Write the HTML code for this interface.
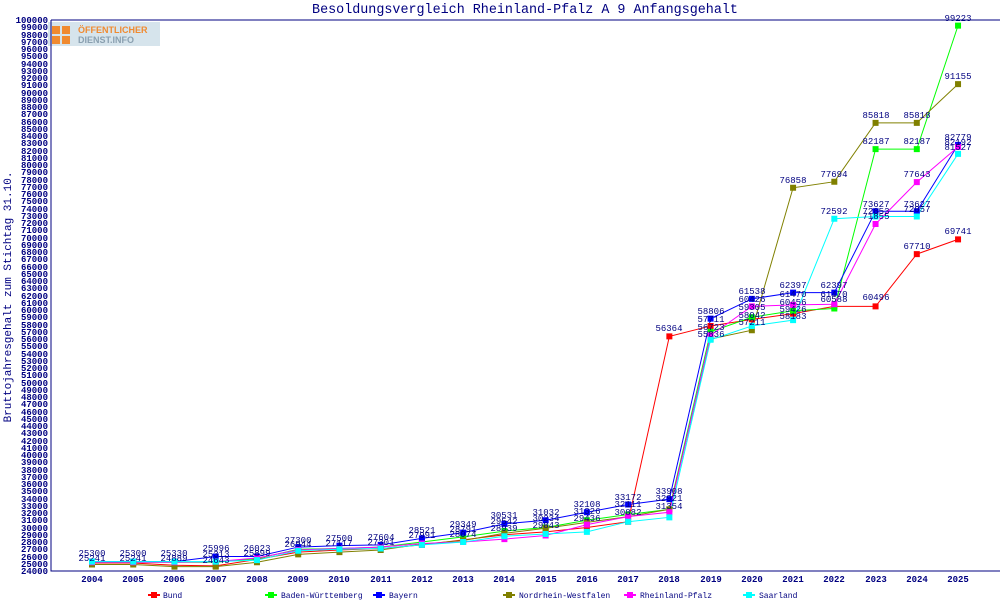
<!DOCTYPE html><html><head><meta charset="utf-8"><style>
body{margin:0;background:#fff}
svg{display:block;font-family:"Liberation Mono",monospace}
</style></head><body>
<svg width="1000" height="600" viewBox="0 0 1000 600">
<rect width="1000" height="600" fill="#fff"/>
<text x="525" y="13" font-size="13.4" fill="#000080" text-anchor="middle">Besoldungsvergleich Rheinland-Pfalz A 9 Anfangsgehalt</text>
<rect x="48" y="22" width="112" height="24" fill="#d6e4ec"/>
<rect x="52" y="26" width="8" height="8" fill="#f08a30"/><rect x="62" y="26" width="8" height="8" fill="#f08a30"/><rect x="52" y="36" width="8" height="8" fill="#f08a30"/><rect x="62" y="36" width="8" height="8" fill="#f08a30"/>
<text x="78" y="33" font-size="9" font-weight="bold" fill="#f08a30" font-family="Liberation Sans,sans-serif">ÖFFENTLICHER</text>
<text x="78" y="43" font-size="9" font-weight="bold" fill="#8aa0b0" font-family="Liberation Sans,sans-serif">DIENST.INFO</text>
<path d="M51 20H1000M51 20V571H1000" stroke="#000080" fill="none"/>
<g fill="#000080" font-size="9" font-weight="bold" text-anchor="end">
<text x="48" y="23">100000</text><text x="48" y="30">99000</text><text x="48" y="38">98000</text><text x="48" y="45">97000</text><text x="48" y="52">96000</text><text x="48" y="59">95000</text><text x="48" y="67">94000</text><text x="48" y="74">93000</text><text x="48" y="81">92000</text><text x="48" y="88">91000</text><text x="48" y="96">90000</text><text x="48" y="103">89000</text><text x="48" y="110">88000</text><text x="48" y="117">87000</text><text x="48" y="125">86000</text><text x="48" y="132">85000</text><text x="48" y="139">84000</text><text x="48" y="146">83000</text><text x="48" y="154">82000</text><text x="48" y="161">81000</text><text x="48" y="168">80000</text><text x="48" y="175">79000</text><text x="48" y="183">78000</text><text x="48" y="190">77000</text><text x="48" y="197">76000</text><text x="48" y="204">75000</text><text x="48" y="212">74000</text><text x="48" y="219">73000</text><text x="48" y="226">72000</text><text x="48" y="233">71000</text><text x="48" y="241">70000</text><text x="48" y="248">69000</text><text x="48" y="255">68000</text><text x="48" y="262">67000</text><text x="48" y="270">66000</text><text x="48" y="277">65000</text><text x="48" y="284">64000</text><text x="48" y="291">63000</text><text x="48" y="299">62000</text><text x="48" y="306">61000</text><text x="48" y="313">60000</text><text x="48" y="320">59000</text><text x="48" y="328">58000</text><text x="48" y="335">57000</text><text x="48" y="342">56000</text><text x="48" y="349">55000</text><text x="48" y="357">54000</text><text x="48" y="364">53000</text><text x="48" y="371">52000</text><text x="48" y="378">51000</text><text x="48" y="386">50000</text><text x="48" y="393">49000</text><text x="48" y="400">48000</text><text x="48" y="407">47000</text><text x="48" y="415">46000</text><text x="48" y="422">45000</text><text x="48" y="429">44000</text><text x="48" y="436">43000</text><text x="48" y="444">42000</text><text x="48" y="451">41000</text><text x="48" y="458">40000</text><text x="48" y="465">39000</text><text x="48" y="473">38000</text><text x="48" y="480">37000</text><text x="48" y="487">36000</text><text x="48" y="494">35000</text><text x="48" y="502">34000</text><text x="48" y="509">33000</text><text x="48" y="516">32000</text><text x="48" y="523">31000</text><text x="48" y="531">30000</text><text x="48" y="538">29000</text><text x="48" y="545">28000</text><text x="48" y="552">27000</text><text x="48" y="560">26000</text><text x="48" y="567">25000</text><text x="48" y="574">24000</text>
</g>
<g fill="#000080" font-size="9" font-weight="bold" text-anchor="middle">
<text x="92" y="582">2004</text><text x="133" y="582">2005</text><text x="174" y="582">2006</text><text x="216" y="582">2007</text><text x="257" y="582">2008</text><text x="298" y="582">2009</text><text x="339" y="582">2010</text><text x="381" y="582">2011</text><text x="422" y="582">2012</text><text x="463" y="582">2013</text><text x="504" y="582">2014</text><text x="546" y="582">2015</text><text x="587" y="582">2016</text><text x="628" y="582">2017</text><text x="669" y="582">2018</text><text x="711" y="582">2019</text><text x="752" y="582">2020</text><text x="793" y="582">2021</text><text x="834" y="582">2022</text><text x="876" y="582">2023</text><text x="917" y="582">2024</text><text x="958" y="582">2025</text>
</g>
<text transform="translate(11,297) rotate(-90)" font-size="11" fill="#000080" text-anchor="middle">Bruttojahresgehalt zum Stichtag 31.10.</text>
<g transform="translate(92,745) scale(41.24,-7.25)" fill="none" stroke-width="1">
<g fill="none">
<polyline vector-effect="non-scaling-stroke" stroke="#ff0000" points="0,25.1 1,25.1 2,24.8 3,24.7 4,25.6 5,26.6 6,26.9 7,27.1 8,27.6 9,28.3 10,29 11,29.4 12,30 13,30.8 14,56.364 15,57.8 16,58.7 17,59.5 18,60.496 19,60.496 20,67.71 21,69.741"/>
<polyline vector-effect="non-scaling-stroke" stroke="#00ff00" points="0,25.2 1,25.2 2,25.2 3,25.2 4,25.7 5,27 6,27.1 7,27.3 8,28 9,28.7 10,29.5 11,30 12,31 13,31.8 14,32.5 15,57 16,59 17,59.9 18,60.2 19,82.187 20,82.187 21,99.223"/>
<polyline vector-effect="non-scaling-stroke" stroke="#0000ff" points="0,25.3 1,25.3 2,25.3 3,25.996 4,26 5,27.3 6,27.5 7,27.6 8,28.5 9,29.3 10,30.5 11,31 12,32.1 13,33.172 14,33.908 15,58.806 16,61.538 17,62.397 18,62.397 19,73.627 20,73.627 21,82.779"/>
<polyline vector-effect="non-scaling-stroke" stroke="#808000" points="0,24.9 1,24.9 2,24.6 3,24.6 4,25.2 5,26.3 6,26.6 7,26.9 8,27.7 9,28.2 10,29.2 11,29.9 12,30.7 13,31.5 14,32.5 15,56 16,57.211 17,76.858 18,77.694 19,85.818 20,85.818 21,91.155"/>
<polyline vector-effect="non-scaling-stroke" stroke="#ff00ff" points="0,25.2 1,25.2 2,25.2 3,25.3 4,25.8 5,26.9 6,27.1 7,27.3 8,27.8 9,28 10,28.4 11,28.9 12,30.4 13,31.5 14,32.1 15,56.5 16,60.5 17,60.7 18,60.8 19,71.855 20,77.643 21,82.5"/>
<polyline vector-effect="non-scaling-stroke" stroke="#00ffff" points="0,25.3 1,25.3 2,25.3 3,25.3 4,25.5 5,26.8 6,27 7,27.1 8,27.6 9,28 10,28.8 11,29.1 12,29.4 13,30.8 14,31.4 15,55.9 16,57.8 17,58.6 18,72.592 19,72.9 20,72.9 21,81.527"/>
</g>
<g stroke-width="6" stroke-linecap="square">
<path vector-effect="non-scaling-stroke" stroke="#ff0000" d="M0,25.1h0M1,25.1h0M2,24.8h0M3,24.7h0M4,25.6h0M5,26.6h0M6,26.9h0M7,27.1h0M8,27.6h0M9,28.3h0M10,29h0M11,29.4h0M12,30h0M13,30.8h0M14,56.364h0M15,57.8h0M16,58.7h0M17,59.5h0M18,60.496h0M19,60.496h0M20,67.71h0M21,69.741h0"/>
<path vector-effect="non-scaling-stroke" stroke="#00ff00" d="M0,25.2h0M1,25.2h0M2,25.2h0M3,25.2h0M4,25.7h0M5,27h0M6,27.1h0M7,27.3h0M8,28h0M9,28.7h0M10,29.5h0M11,30h0M12,31h0M13,31.8h0M14,32.5h0M15,57h0M16,59h0M17,59.9h0M18,60.2h0M19,82.187h0M20,82.187h0M21,99.223h0"/>
<path vector-effect="non-scaling-stroke" stroke="#0000ff" d="M0,25.3h0M1,25.3h0M2,25.3h0M3,25.996h0M4,26h0M5,27.3h0M6,27.5h0M7,27.6h0M8,28.5h0M9,29.3h0M10,30.5h0M11,31h0M12,32.1h0M13,33.172h0M14,33.908h0M15,58.806h0M16,61.538h0M17,62.397h0M18,62.397h0M19,73.627h0M20,73.627h0M21,82.779h0"/>
<path vector-effect="non-scaling-stroke" stroke="#808000" d="M0,24.9h0M1,24.9h0M2,24.6h0M3,24.6h0M4,25.2h0M5,26.3h0M6,26.6h0M7,26.9h0M8,27.7h0M9,28.2h0M10,29.2h0M11,29.9h0M12,30.7h0M13,31.5h0M14,32.5h0M15,56h0M16,57.211h0M17,76.858h0M18,77.694h0M19,85.818h0M20,85.818h0M21,91.155h0"/>
<path vector-effect="non-scaling-stroke" stroke="#ff00ff" d="M0,25.2h0M1,25.2h0M2,25.2h0M3,25.3h0M4,25.8h0M5,26.9h0M6,27.1h0M7,27.3h0M8,27.8h0M9,28h0M10,28.4h0M11,28.9h0M12,30.4h0M13,31.5h0M14,32.1h0M15,56.5h0M16,60.5h0M17,60.7h0M18,60.8h0M19,71.855h0M20,77.643h0M21,82.5h0"/>
<path vector-effect="non-scaling-stroke" stroke="#00ffff" d="M0,25.3h0M1,25.3h0M2,25.3h0M3,25.3h0M4,25.5h0M5,26.8h0M6,27h0M7,27.1h0M8,27.6h0M9,28h0M10,28.8h0M11,29.1h0M12,29.4h0M13,30.8h0M14,31.4h0M15,55.9h0M16,57.8h0M17,58.6h0M18,72.592h0M19,72.9h0M20,72.9h0M21,81.527h0"/>
</g>
</g>
<g fill="#000080" font-size="9" text-anchor="middle">
<text x="92" y="556">25300</text><text x="92" y="561">25241</text><text x="133" y="556">25300</text><text x="133" y="561">25241</text><text x="174" y="556">25330</text><text x="174" y="561">24889</text><text x="216" y="551">25996</text><text x="216" y="557">25313</text><text x="216" y="563">24643</text><text x="257" y="551">26023</text><text x="257" y="556">25899</text>
<text x="298" y="543">27300</text><text x="298" y="547">26944</text><text x="339" y="541">27500</text><text x="339" y="546">27117</text><text x="381" y="540">27604</text><text x="381" y="545">27301</text><text x="422" y="533">28521</text><text x="422" y="538">27991</text>
<text x="463" y="527">29349</text><text x="463" y="532">28791</text><text x="463" y="537">28074</text><text x="504" y="518">30531</text><text x="504" y="524">29542</text><text x="504" y="531">28939</text><text x="546" y="515">31032</text><text x="546" y="521">30234</text><text x="546" y="528">29843</text>
<text x="587" y="507">32108</text><text x="587" y="514">31326</text><text x="587" y="521">29436</text><text x="628" y="500">33172</text><text x="628" y="507">32111</text><text x="628" y="515">30882</text><text x="669" y="494">33908</text><text x="669" y="501">32921</text><text x="669" y="509">31354</text>
<text x="669" y="331">56364</text><text x="711" y="314">58806</text><text x="711" y="322">57711</text><text x="711" y="330">56723</text><text x="711" y="337">55836</text>
<text x="752" y="294">61538</text><text x="752" y="302">60426</text><text x="752" y="310">59305</text><text x="752" y="318">58042</text><text x="752" y="325">57211</text>
<text x="793" y="288">62397</text><text x="793" y="297">61470</text><text x="793" y="305">60456</text><text x="793" y="312">59426</text><text x="793" y="319">58183</text><text x="793" y="183">76858</text>
<text x="834" y="288">62397</text><text x="834" y="297">61470</text><text x="834" y="302">60588</text><text x="834" y="177">77694</text><text x="834" y="214">72592</text>
<text x="876" y="300">60496</text><text x="876" y="118">85818</text><text x="876" y="144">82187</text><text x="876" y="207">73627</text><text x="876" y="214">72853</text><text x="876" y="219">71855</text>
<text x="917" y="249">67710</text><text x="917" y="118">85818</text><text x="917" y="144">82187</text><text x="917" y="177">77643</text><text x="917" y="207">73627</text><text x="917" y="212">72857</text>
<text x="958" y="234">69741</text><text x="958" y="21">99223</text><text x="958" y="79">91155</text><text x="958" y="140">82779</text><text x="958" y="145">82192</text><text x="958" y="150">81527</text>
</g>
<g font-size="8" fill="#000080">
<line x1="148" y1="595" x2="160" y2="595" stroke="#ff0000" stroke-width="2"/><rect x="151" y="592" width="6" height="6" fill="#ff0000"/><text x="163" y="598">Bund</text>
<line x1="265" y1="595" x2="277" y2="595" stroke="#00ff00" stroke-width="2"/><rect x="268" y="592" width="6" height="6" fill="#00ff00"/><text x="281" y="598">Baden-Württemberg</text>
<line x1="373" y1="595" x2="385" y2="595" stroke="#0000ff" stroke-width="2"/><rect x="376" y="592" width="6" height="6" fill="#0000ff"/><text x="389" y="598">Bayern</text>
<line x1="503" y1="595" x2="515" y2="595" stroke="#808000" stroke-width="2"/><rect x="506" y="592" width="6" height="6" fill="#808000"/><text x="519" y="598">Nordrhein-Westfalen</text>
<line x1="624" y1="595" x2="636" y2="595" stroke="#ff00ff" stroke-width="2"/><rect x="627" y="592" width="6" height="6" fill="#ff00ff"/><text x="640" y="598">Rheinland-Pfalz</text>
<line x1="743" y1="595" x2="755" y2="595" stroke="#00ffff" stroke-width="2"/><rect x="746" y="592" width="6" height="6" fill="#00ffff"/><text x="759" y="598">Saarland</text>
</g>
</svg>
</body></html>
